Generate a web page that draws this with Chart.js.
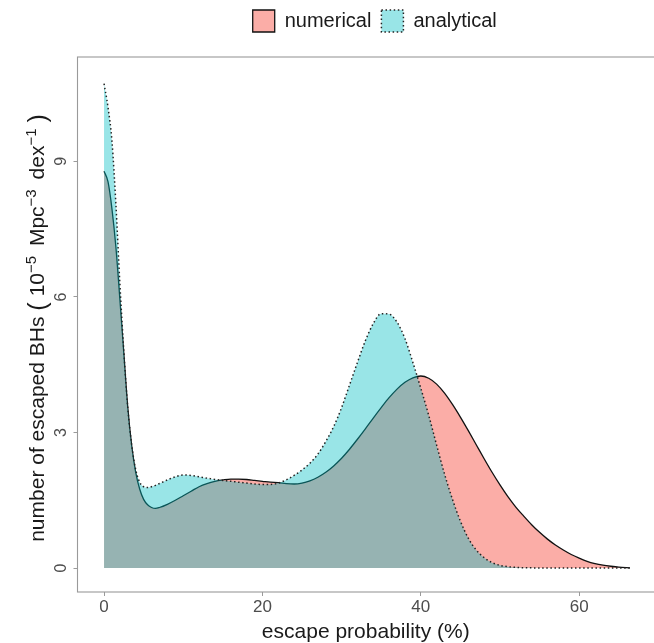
<!DOCTYPE html>
<html>
<head>
<meta charset="utf-8">
<script src="https://cdn.jsdelivr.net/npm/chart.js@4"></script>
<style>
  html, body { margin: 0; padding: 0; background: #ffffff; }
  #wrap { width: 654px; height: 643px; overflow: hidden; }
</style>
</head>
<body>
<div id="wrap"><canvas id="c" width="654" height="643"></canvas></div>
<script>
// escape probability (%) sample positions
const escapeProb = [0, 0.5, 1, 1.5, 2, 2.5, 3, 3.5, 4, 4.5, 5, 5.5, 6, 6.5,
  7, 8, 9, 10, 11, 12, 13, 14, 15, 16, 17, 18, 19, 20, 21, 22, 23, 24, 25, 26,
  27, 28, 29, 30, 31, 32, 33, 34, 35, 36, 37, 38, 39, 40, 41, 42, 43, 44, 45, 46,
  47, 48, 49, 50, 51, 52, 53, 54, 55, 56, 57, 58, 59, 60, 61, 62, 63, 64, 65, 66.4];

// number of escaped BHs (1e-5 Mpc^-3 dex^-1)
const numerical = [8.78, 8.55, 7.95, 7.1, 5.95, 4.75, 3.55, 2.7, 2.12, 1.75, 1.52, 1.4, 1.34, 1.32,
  1.34, 1.41, 1.5, 1.6, 1.7, 1.8, 1.87, 1.92, 1.95, 1.97, 1.97, 1.96, 1.94, 1.92, 1.9, 1.89, 1.87, 1.86, 1.88, 1.93,
  2.01, 2.12, 2.26, 2.43, 2.63, 2.85, 3.08, 3.32, 3.55, 3.77, 3.96, 4.11, 4.21, 4.25, 4.2, 4.07, 3.87, 3.62, 3.34, 3.04,
  2.73, 2.42, 2.12, 1.84, 1.58, 1.35, 1.15, 0.96, 0.79, 0.64, 0.51, 0.4, 0.3, 0.22, 0.15, 0.1, 0.065, 0.04, 0.02, 0.006];

const analytical = [10.72, 10.2, 9.45, 8.05, 6.3, 4.8, 3.55, 2.72, 2.18, 1.9, 1.8, 1.78, 1.8, 1.83,
  1.87, 1.95, 2.02, 2.06, 2.05, 2.02, 1.99, 1.96, 1.94, 1.92, 1.9, 1.88, 1.86, 1.85, 1.85, 1.88, 1.95, 2.05, 2.17, 2.32,
  2.52, 2.8, 3.13, 3.55, 4.05, 4.55, 5.03, 5.41, 5.63, 5.62, 5.44, 5.08, 4.55, 3.98, 3.38, 2.72, 2.08, 1.52, 1.04, 0.66,
  0.4, 0.23, 0.12, 0.06, 0.03, 0.015, 0.008, 0.004, 0.002, 0.001, 0, 0, 0, 0, 0, 0, 0, 0, 0, 0];

const seriesNames = ['numerical', 'analytical'];
const xTicks = [0, 20, 40, 60];
const yTicks = [0, 3, 6, 9];
const xTitle = 'escape probability (%)';
// y title pieces: [text, kind]  kind: 'n' normal, 's' superscript, 'p' big parenthesis
const yTitleParts = [
  ['number of escaped BHs ', 'n'], ['(', 'p'], ['10', 'n'], ['\u22125', 's'],
  [' Mpc', 'n'], ['\u22123', 's'], [' dex', 'n'], ['\u22121', 's'], [')', 'p']
];

const FONT = "'Liberation Sans', Arial, sans-serif";

const toPoints = (ys) => ys.map((y, i) => ({ x: escapeProb[i], y: y }));

const panelBorder = {
  id: 'panelBorder',
  afterDraw(chart) {
    const { ctx, chartArea: a } = chart;
    ctx.save();
    ctx.strokeStyle = '#9a9a9a';
    ctx.lineWidth = 1.1;
    ctx.strokeRect(a.left, a.top, a.right - a.left + 6, a.bottom - a.top);
    ctx.restore();
  }
};

// ggplot centres its legend over the (slightly wider, clipped) panel
const legendShift = {
  id: 'legendShift',
  afterLayout(chart) {
    if (chart.legend) { chart.legend.left += 9; chart.legend.right += 9; }
  }
};

// y-axis title with real superscripts (plotmath style)
const yTitlePlugin = {
  id: 'yTitlePlugin',
  afterDraw(chart) {
    const { ctx, chartArea: a } = chart;
    const fontFor = (k) => k === 's' ? '15px ' + FONT : (k === 'p' ? '25px ' + FONT : '21px ' + FONT);
    ctx.save();
    let total = 0;
    const widths = yTitleParts.map(([t, k], i) => {
      ctx.font = fontFor(k);
      const w = ctx.measureText(t).width;
      let extra = 0;
      if (t === '(') extra = 6;
      if (k === 's') extra = (i === yTitleParts.length - 2) ? 6 : 4;
      total += w + extra;
      return [w, extra];
    });
    const cy = (a.top + a.bottom) / 2 + 3.5;
    ctx.translate(44, cy);
    ctx.rotate(-Math.PI / 2);
    ctx.fillStyle = '#1a1a1a';
    ctx.textBaseline = 'alphabetic';
    ctx.textAlign = 'left';
    let x = -total / 2;
    yTitleParts.forEach(([t, k], i) => {
      ctx.font = fontFor(k);
      const dy = k === 's' ? -8 : (k === 'p' ? 1.5 : 0);
      ctx.fillText(t, x, dy);
      x += widths[i][0] + widths[i][1];
    });
    ctx.restore();
  }
};

new Chart(document.getElementById('c'), {
  type: 'line',
  data: {
    datasets: [
      {
        label: seriesNames[0],
        data: toPoints(numerical),
        order: 1,
        borderColor: '#111111',
        borderWidth: 1.3,
        backgroundColor: 'rgba(248,118,109,0.6)',
        fill: 'origin',
        pointRadius: 0,
        cubicInterpolationMode: 'monotone'
      },
      {
        label: seriesNames[1],
        data: toPoints(analytical),
        order: 0,
        borderColor: '#222222',
        borderWidth: 1.5,
        borderDash: [1.5, 2.6],
        backgroundColor: 'rgba(0,191,196,0.4)',
        fill: 'origin',
        pointRadius: 0,
        cubicInterpolationMode: 'monotone'
      }
    ]
  },
  options: {
    responsive: false,
    animation: false,
    devicePixelRatio: 1,
    layout: { padding: { left: 0, right: 0, top: 0, bottom: 0 } },
    plugins: {
      legend: {
        position: 'top',
        fullSize: false,
        labels: {
          boxWidth: 22,
          boxHeight: 22,
          padding: 10,
          color: '#1a1a1a',
          font: { family: FONT, size: 20 },
          sort: (a, b) => a.datasetIndex - b.datasetIndex
        }
      },
      subtitle: {
        display: true,
        text: '',
        weight: 500,
        position: 'top',
        padding: 0,
        font: { size: 15, lineHeight: 1 }
      },
      tooltip: { enabled: false }
    },
    scales: {
      x: {
        type: 'linear',
        min: -3.35,
        max: 69.45,
        afterBuildTicks: (s) => { s.ticks = xTicks.map(v => ({ value: v })); },
        afterFit: (s) => { s.height = 51; },
        grid: { display: true, drawOnChartArea: false, drawTicks: true, tickLength: 4, color: '#9a9a9a' },
        border: { display: false },
        ticks: {
          color: '#4d4d4d',
          padding: 1,
          font: { family: FONT, size: 17 }
        },
        title: {
          display: true,
          text: xTitle,
          color: '#1a1a1a',
          font: { family: FONT, size: 21, lineHeight: 1.2 },
          padding: { top: 0, bottom: -2 }
        }
      },
      y: {
        type: 'linear',
        min: -0.53,
        max: 11.31,
        afterBuildTicks: (s) => { s.ticks = yTicks.map(v => ({ value: v })); },
        afterFit: (s) => { s.width = 77.5; },
        grid: { display: true, drawOnChartArea: false, drawTicks: true, tickLength: 4, color: '#9a9a9a' },
        border: { display: false },
        ticks: {
          color: '#4d4d4d',
          minRotation: 90,
          maxRotation: 90,
          crossAlign: 'center',
          padding: 7,
          font: { family: FONT, size: 16 }
        },
        title: { display: false }
      }
    }
  },
  plugins: [panelBorder, legendShift, yTitlePlugin]
});
</script>
</body>
</html>
